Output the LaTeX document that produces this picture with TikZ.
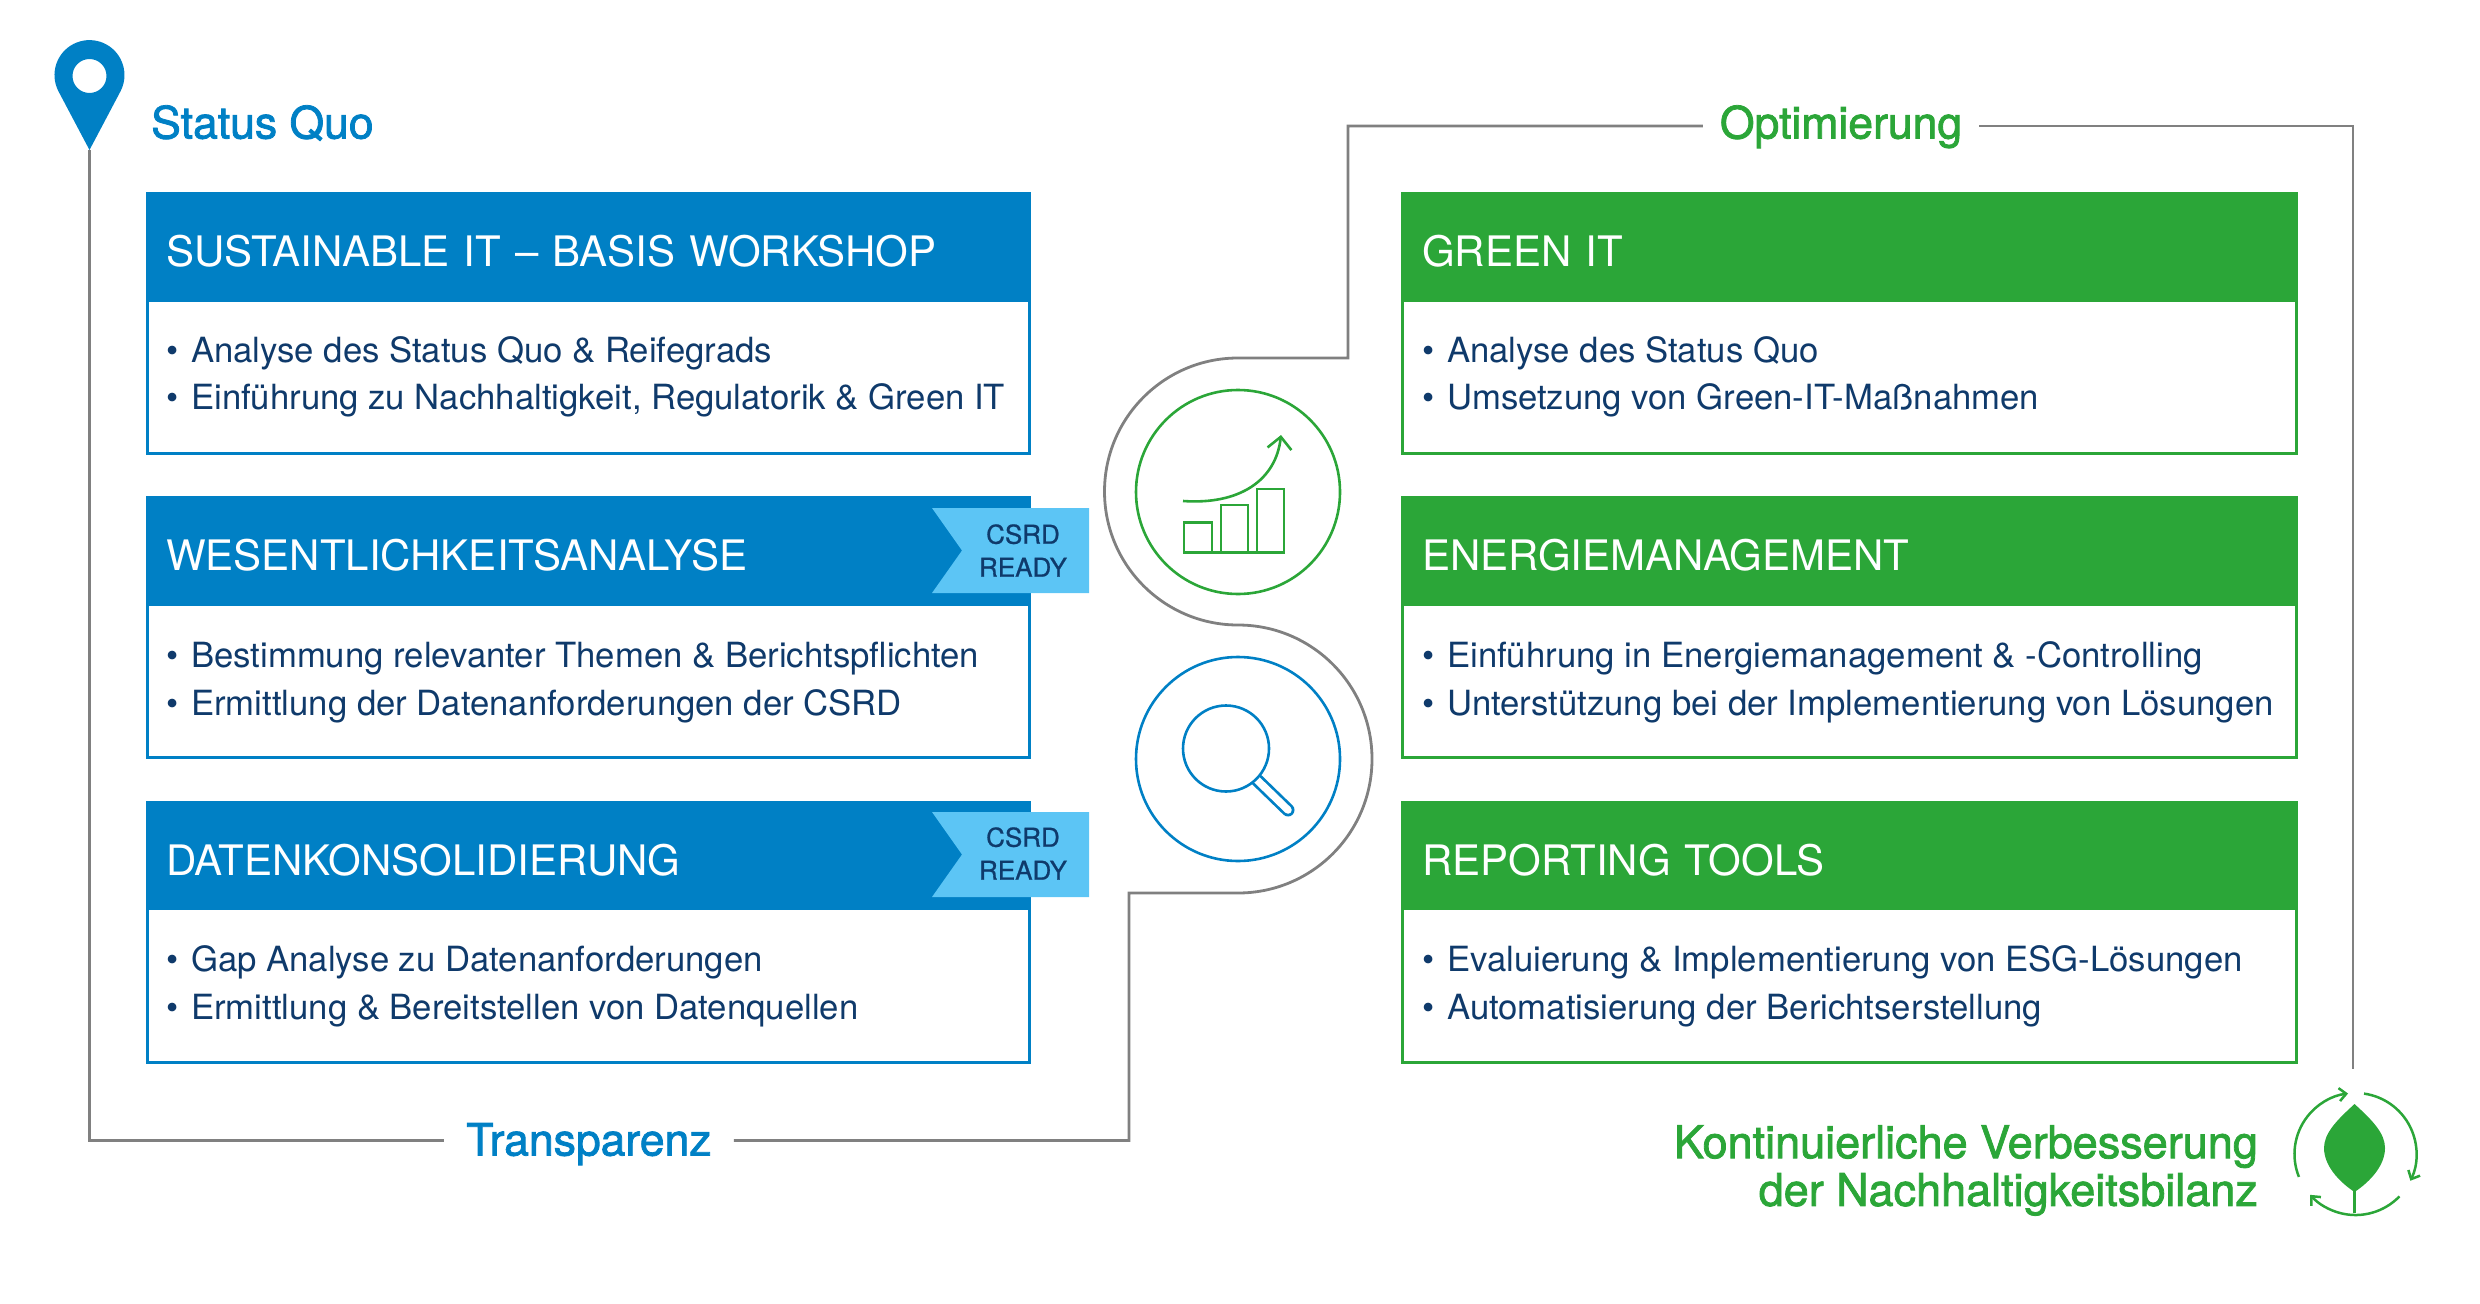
\documentclass[tikz,border=0pt]{standalone}
\usepackage{fontspec}
\setmainfont{TeX Gyre Heros}
\newfontfamily\markfont[FakeBold=1.8]{TeX Gyre Heros}
\newfontfamily\tagfont[FakeBold=0.8]{TeX Gyre Heros}
\usetikzlibrary{arrows.meta}
\definecolor{itblue}{HTML}{0080C5}
\definecolor{itgreen}{HTML}{2BA638}
\definecolor{itsky}{HTML}{5CC5F5}
\definecolor{itnavy}{HTML}{0F3A6B}
\definecolor{itgray}{HTML}{808080}
\newcommand{\bul}{\makebox[25pt][l]{\textbullet}}

\begin{document}
\begin{tikzpicture}[x=1pt,y=-1pt]
\tikzset{head/.style = {anchor=north west,outer sep=0pt,minimum width=885pt,minimum height=109.5pt,
  inner xsep=20pt,text width=845pt,text height=40.4pt,text depth=0pt,align=left,text=white,font=\fontsize{42}{48}\selectfont}}
\tikzset{frame/.style = {anchor=north west,line width=3pt,fill=white,minimum width=882pt,minimum height=154pt}}
\tikzset{lines/.style = {anchor=west,inner sep=0pt,align=left,text=itnavy,font=\fontsize{34.7}{47.6}\selectfont}}
\tikzset{ribbon/.style = {fill=itsky}}
\tikzset{ribbontext/.style = {inner sep=0pt,align=center,text=itnavy,font=\tagfont\fontsize{26}{33}\selectfont}}
\tikzset{track/.style = {draw=itgray,line width=2.8pt}}
\tikzset{ring/.style = {circle,line width=2.6pt,minimum size=204pt}}
\tikzset{stage/.style = {inner xsep=22pt,inner ysep=0pt,text height=33pt,text depth=5pt,font=\markfont\fontsize{44.5}{48}\selectfont}}
\tikzset{icon/.style = {line width=2.6pt}}
\useasboundingbox (0,0) rectangle (2480,1303);

% left column
\node[frame,draw=itblue] (f1) at (146,298) {};
\node[head,fill=itblue] (h1) at (146,192) {SUSTAINABLE IT -- BASIS WORKSHOP};
\node[lines] (t1) at (166,377) {\bul Analyse des Status Quo \& Reifegrads\\\bul Einführung zu Nachhaltigkeit, Regulatorik \& Green IT};

\node[frame,draw=itblue] (f2) at (146,602) {};
\node[head,fill=itblue] (h2) at (146,496) {WESENTLICHKEITSANALYSE};
\node[lines] (t2) at (166,682.5) {\bul Bestimmung relevanter Themen \& Berichtspflichten\\\bul Ermittlung der Datenanforderungen der CSRD};

\node[frame,draw=itblue] (f3) at (146,906.5) {};
\node[head,fill=itblue] (h3) at (146,800.5) {DATENKONSOLIDIERUNG};
\node[lines] (t3) at (166,986.5) {\bul Gap Analyse zu Datenanforderungen\\\bul Ermittlung \& Bereitstellen von Datenquellen};

% ribbons
\fill[ribbon] (932,508) -- (1089,508) -- (1089,593) -- (932,593) -- (962,550.5) -- cycle;
\node[ribbontext] (r1) at (1023,550.5) {CSRD\\READY};
\fill[ribbon] (932,812) -- (1089,812) -- (1089,897) -- (932,897) -- (962,854.5) -- cycle;
\node[ribbontext] (r2) at (1023,853.5) {CSRD\\READY};

% right column
\node[frame,draw=itgreen,minimum width=894pt] (f4) at (1401,298) {};
\node[head,fill=itgreen,minimum width=897pt,inner xsep=21pt,text width=855pt] (h4) at (1401,192) {GREEN IT};
\node[lines] (t4) at (1422,377) {\bul Analyse des Status Quo\\\bul Umsetzung von Green-IT-Maßnahmen};

\node[frame,draw=itgreen,minimum width=894pt] (f5) at (1401,602) {};
\node[head,fill=itgreen,minimum width=897pt,inner xsep=21pt,text width=855pt] (h5) at (1401,496) {ENERGIEMANAGEMENT};
\node[lines] (t5) at (1422,682.5) {\bul Einführung in Energiemanagement \& -Controlling\\\bul Unterstützung bei der Implementierung von Lösungen};

\node[frame,draw=itgreen,minimum width=894pt] (f6) at (1401,906.5) {};
\node[head,fill=itgreen,minimum width=897pt,inner xsep=21pt,text width=855pt] (h6) at (1401,800.5) {REPORTING TOOLS};
\node[lines] (t6) at (1422,986.5) {\bul Evaluierung \& Implementierung von ESG-Lösungen\\\bul Automatisierung der Berichtserstellung};

% stage labels
\node[stage,anchor=west,inner xsep=0pt,text=itblue] (quo) at (151,124.5) {Status Quo};
\node[stage,text height=35pt,text=itblue] (trans) at (589,1140.5) {Transparenz};
\node[stage,inner xsep=17pt,text height=30pt,text=itgreen] (opti) at (1841,126) {Optimierung};
\node[anchor=east,inner sep=0pt,align=right,text=itgreen,font=\markfont\fontsize{45}{47.7}\selectfont] (kont) at (2258,1170.5) {Kontinuierliche Verbesserung\\der Nachhaltigkeitsbilanz};

% the way through the picture
\coordinate (pin) at (89.5,150);
\coordinate (lowturn) at (1129,893);
\coordinate (lowarc) at (1238,893);
\coordinate (highturn) at (1348,358);
\coordinate (rightend) at (2353,1069);
\draw[track] (pin) |- (trans.west);
\draw[track] (trans.east) -| (lowturn) -- (lowarc)
  arc[start angle=-90,end angle=90,radius=134pt]
  arc[start angle=-90,end angle=-270,radius=133.5pt]
  -- (highturn) |- (opti.west);
\draw[track] (opti.east) -| (rightend);

% pin
\fill[itblue,even odd rule] (pin) -- (58.3,91) arc[start angle=207,end angle=-27,radius=35pt] -- cycle
  (89.5,76) circle[radius=17pt];

% circles
\node[ring,draw=itgreen] (growth) at (1238,492) {};
\node[ring,draw=itblue] (search) at (1238,759) {};

% chart icon
\draw[icon,itgreen] (1184,522.5) rectangle (1212,552.5);
\draw[icon,itgreen] (1221,505) rectangle (1248,552.5);
\draw[icon,itgreen] (1257,489) rectangle (1284,552.5);
\draw[icon,itgreen] (1212,552.5) -- (1257,552.5);
\draw[icon,itgreen,-{Straight Barb[length=12pt,width=24pt]}] (1183,501) .. controls (1240,505) and (1276,480) .. (1281,435);

% magnifier icon
\draw[itblue,line width=13pt,line cap=round] (1256,779) -- (1288,810);
\draw[white,line width=7.5pt,line cap=round] (1256,779) -- (1288,810);
\draw[icon,itblue,fill=white] (1226,748.5) circle[radius=43pt];

% leaf icon
\fill[itgreen] (2354.5,1104) .. controls (2372,1120) and (2385,1133) .. (2385,1148)
  .. controls (2385,1165) and (2371,1181) .. (2354.5,1192)
  .. controls (2338,1181) and (2324,1165) .. (2324,1148)
  .. controls (2324,1133) and (2337,1120) .. (2354.5,1104) -- cycle;
\draw[itgreen,line width=2.5pt] (2354.5,1188) -- (2354.5,1213);
\draw[itgreen,line width=2.5pt,-{Straight Barb[length=7pt,width=13pt]}] (2298.9,1176.9) arc[start angle=202,end angle=97,radius=61pt];
\draw[itgreen,line width=2.5pt,-{Straight Barb[length=7pt,width=13pt]}] (2364,1093.6) arc[start angle=82,end angle=-26,radius=61pt];
\draw[itgreen,line width=2.5pt,-{Straight Barb[length=7pt,width=13pt]}] (2399.4,1196.4) arc[start angle=-44,end angle=-138,radius=61pt];
\end{tikzpicture}
\end{document}
